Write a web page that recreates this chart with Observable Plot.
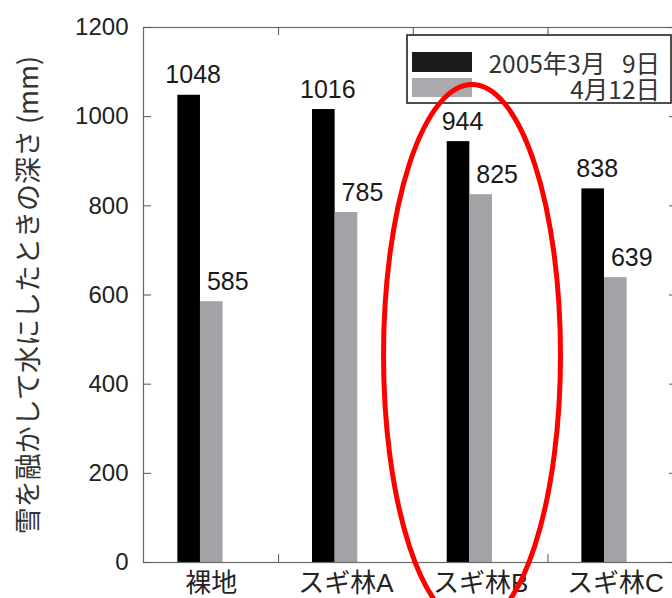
<!DOCTYPE html>
<html><head><meta charset="utf-8">
<script src="https://cdn.jsdelivr.net/npm/d3@7"></script>
<script src="https://cdn.jsdelivr.net/npm/@observablehq/plot@0.6"></script>
<style>html,body{margin:0;padding:0;overflow:hidden;background:#fff}</style>
</head><body><div id="chart"></div>
<script>
// ---- data ----
const categories = ["裸地", "スギ林A", "スギ林B", "スギ林C"];
const seriesNames = ["2005年3月   9日", "4月12日"];
const march9 = [1048, 1016, 944, 838];
const april12 = [585, 785, 825, 639];
const yTicks = [0, 200, 400, 600, 800, 1000, 1200];
const yLabel = "雪を融かして水にしたときの深さ (mm)";
const highlightCategory = "スギ林B";

// ---- style ----
const seriesColors = ["#000000", "#a3a3a7"];
const swatchColors = ["#1c1a1c", "#aaaaae"];
const latin = "'Liberation Sans', Arial, 'Noto Sans CJK JP', sans-serif";
const cjk = "'Noto Sans CJK JP', sans-serif";
const barW = 0.168;       // bar width in category-step units
const bandShift = 0.08;   // band centre relative to bar pair
const xDomain = [-0.423, 3.542];
const yDomain = [0, 1200];
const mL = 143, mR = -5, mT = 27, mB = 36, W = 672, H = 598;
const frameW = W - mL - mR, frameH = H - mT - mB, tick = 8;
const tickX = tick * (xDomain[1] - xDomain[0]) / frameW;
const tickY = tick * (yDomain[1] - yDomain[0]) / frameH;

const idx = categories.map((c, i) => i);
const series = [march9, april12];
const rows = series.map((vals, s) => categories.map((c, i) => ({category: c, i, s, value: vals[i]})));
const dividers = idx.slice(0, -1).map(i => i + 0.5 + bandShift);

const barMarks = rows.map((r, s) => Plot.rectY(r, {
  x1: d => s === 0 ? d.i - barW : d.i,
  x2: d => s === 0 ? d.i : d.i + barW,
  y1: 0, y2: "value", fill: seriesColors[s]
}));
const labelMarks = rows.map((r, s) => Plot.text(r, {
  x: d => s === 0 ? d.i - barW / 2 : d.i + barW / 2,
  y: "value", text: d => String(d.value),
  dx: s === 0 ? 4 : 16, dy: -20, fontSize: 25, fill: "#1a1a1a", lineAnchor: "middle"
}));

const plot = Plot.plot({
  width: W, height: H,
  marginLeft: mL, marginRight: mR, marginTop: mT, marginBottom: mB,
  style: {fontFamily: latin, background: "#fff", color: "#222"},
  x: {type: "linear", domain: xDomain, axis: null},
  y: {domain: yDomain, axis: null},
  marks: [
    ...barMarks,
    ...labelMarks,
    Plot.frame({stroke: "#6a6a6a", strokeWidth: 1.2}),
    // inward ticks: left, right, bottom, top
    Plot.ruleY(yTicks, {y: d => d, x1: xDomain[0], x2: xDomain[0] + tickX, stroke: "#555"}),
    Plot.ruleY(yTicks, {y: d => d, x1: xDomain[1] - tickX, x2: xDomain[1], stroke: "#555"}),
    Plot.ruleX(dividers, {x: d => d, y1: yDomain[0], y2: yDomain[0] + tickY, stroke: "#555"}),
    Plot.ruleX(dividers, {x: d => d, y1: yDomain[1] - tickY, y2: yDomain[1], stroke: "#555"}),
    Plot.text(yTicks, {y: d => d, text: d => String(d), frameAnchor: "left", textAnchor: "end", dx: -15, fontSize: 24, fill: "#222"}),
    Plot.text(categories, {x: (d, i) => i + bandShift, frameAnchor: "bottom", lineAnchor: "top", dy: 11, fontSize: 26, fill: "#222"}),
    Plot.text([yLabel], {frameAnchor: "left", textAnchor: "middle", rotate: -90, dx: -114, fontSize: 27, fontFamily: cjk, fill: "#333"})
  ]
});

// ---- legend (inside plot, top right) ----
const svg = d3.select(plot);
const xs = plot.scale("x"), ys = plot.scale("y");
const boxRight = 671, boxLeft = 407, boxTop = 35, boxH = 68;
const lg = svg.append("g");
lg.append("rect").attr("x", boxLeft).attr("y", boxTop).attr("width", boxRight - boxLeft).attr("height", boxH)
  .attr("fill", "#fff").attr("stroke", "#222").attr("stroke-width", 1.6);
seriesNames.forEach((name, s) => {
  const yTop = boxTop + (s === 0 ? 17 : 43);
  lg.append("rect").attr("x", boxLeft + 5).attr("y", yTop).attr("width", 60).attr("height", s === 0 ? 20 : 19)
    .attr("fill", swatchColors[s]);
  lg.append("text").attr("x", boxRight - 11).attr("y", yTop + 10).attr("text-anchor", "end")
    .attr("dominant-baseline", "central").attr("font-family", cjk).attr("font-size", 24.5)
    .style("white-space", "pre").attr("xml:space", "preserve")
    .attr("fill", "#333").text(name);
});

// ---- highlight ellipse (annotation in data units) ----
const ellipse = {category: highlightCategory, xOffset: 0.02, rx: 0.657, cy: 464, ry: 607};
const ci = categories.indexOf(ellipse.category);
const ecx = xs.apply(ci + ellipse.xOffset);
const erx = xs.apply(ci + ellipse.rx) - xs.apply(ci);
const ecy = ys.apply(ellipse.cy);
const ery = ys.apply(0) - ys.apply(ellipse.ry);
svg.append("ellipse").attr("cx", ecx).attr("cy", ecy).attr("rx", erx).attr("ry", ery)
  .attr("fill", "none").attr("stroke", "#ff0000").attr("stroke-width", 5);

document.getElementById("chart").appendChild(plot);
</script></body></html>
